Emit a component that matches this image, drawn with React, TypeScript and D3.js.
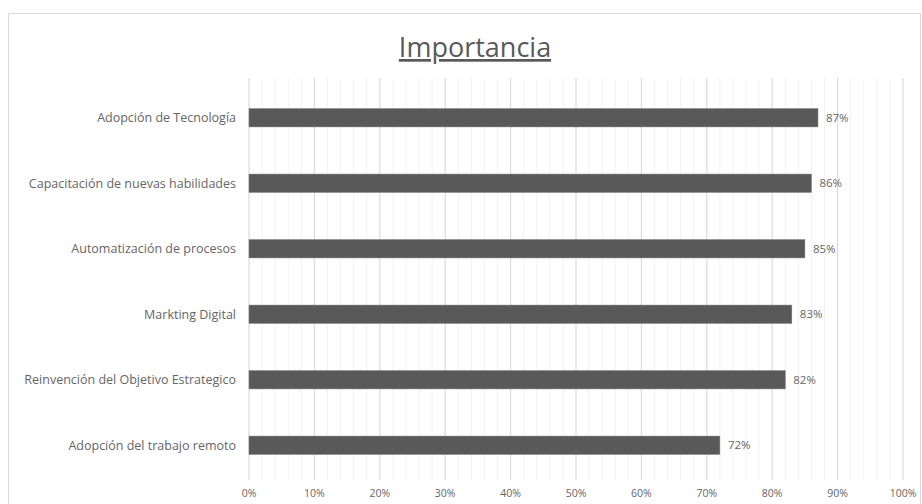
import React from "react";
import * as d3 from "d3";

const categories = [
  "Adopción de Tecnología",
  "Capacitación de nuevas habilidades",
  "Automatización de procesos",
  "Markting Digital",
  "Reinvención del Objetivo Estrategico",
  "Adopción del trabajo remoto",
];
const values = [0.87, 0.86, 0.85, 0.83, 0.82, 0.72];
const majorTicks = [0, 0.1, 0.2, 0.3, 0.4, 0.5, 0.6, 0.7, 0.8, 0.9, 1.0];
const minorTicks = d3.range(0, 51).map((i) => i * 0.02);

const W = 922;
const H = 504;
const FONT = "'Open Sans', 'Liberation Sans', sans-serif";
const TEXT = "#666666";

export default function App() {
  const x = d3.scaleLinear().domain([0, 1]).range([249, 903]);
  const y = d3.scaleBand<string>().domain(categories).range([85, 478]).paddingInner(0.72).paddingOuter(0.36);
  const fmt = d3.format(".0%");
  const gridTop = 78;
  const gridBottom = 480;

  return (
    <svg width={W} height={H} style={{ position: "absolute", left: 0, top: 0, background: "#fff" }}>
      <rect x={8.5} y={13.5} width={W - 10} height={H} fill="#fff" stroke="#d9d9d9" strokeWidth={1} />
      <text x={475} y={57} textAnchor="middle" fontFamily={FONT} fontSize={27} fill="#595959" textDecoration="underline">
        Importancia
      </text>
      {minorTicks.map((t, i) => (
        <line key={"m" + i} x1={x(t)} x2={x(t)} y1={gridTop} y2={gridBottom} stroke="#f2f2f2" strokeWidth={1} />
      ))}
      {majorTicks.map((t, i) => (
        <line key={"M" + i} x1={x(t)} x2={x(t)} y1={gridTop} y2={gridBottom} stroke="#d9d9d9" strokeWidth={1} />
      ))}
      {majorTicks.map((t, i) => (
        <text key={"t" + i} x={x(t)} y={497} textAnchor="middle" fontFamily={FONT} fontSize={10.5} fill={TEXT}>
          {fmt(t)}
        </text>
      ))}
      {categories.map((c, i) => {
        const by = y(c)!;
        const bh = y.bandwidth();
        return (
          <g key={c}>
            <rect x={x(0)} y={by} width={x(values[i]) - x(0)} height={bh} fill="#595959" stroke="#7a7a7a" strokeWidth={0.5} />
            <text x={236} y={by + bh / 2} dy="0.35em" textAnchor="end" fontFamily={FONT} fontSize={12.5} fill={TEXT}
              textLength={undefined}>
              {c}
            </text>
            <text x={x(values[i]) + 8} y={by + bh / 2} dy="0.35em" fontFamily={FONT} fontSize={11.5} fill={TEXT}>
              {fmt(values[i])}
            </text>
          </g>
        );
      })}
    </svg>
  );
}
